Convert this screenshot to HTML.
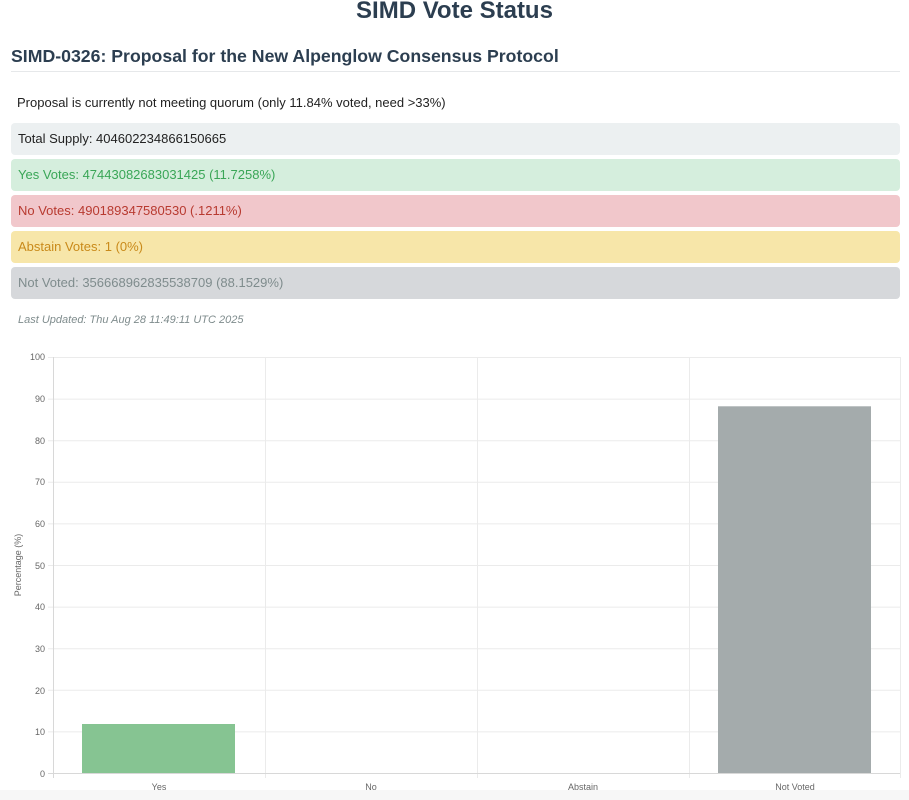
<!DOCTYPE html>
<html><head><meta charset="utf-8"><style>
body{margin:0;width:909px;height:800px;background:#fff;font-family:"Liberation Sans",Arial,sans-serif;position:relative;overflow:hidden}
.a{position:absolute;white-space:nowrap}
.box{position:absolute;left:11px;width:889px;height:32px;border-radius:4px;font-size:13px;line-height:32px;padding-left:7px;box-sizing:border-box}
</style></head><body>
<div class="a" style="left:0;width:909px;text-align:center;top:-3px;font-size:24px;font-weight:bold;color:#2c3e50">SIMD Vote Status</div>
<div class="a" style="left:11px;top:46px;font-size:17.7px;font-weight:bold;color:#2c3e50">SIMD-0326: Proposal for the New Alpenglow Consensus Protocol</div>
<div class="a" style="left:11px;top:71px;width:889px;height:1px;background:#e6e8ea"></div>
<div class="a" style="left:17px;top:95px;font-size:13px;color:#222">Proposal is currently not meeting quorum (only 11.84% voted, need &gt;33%)</div>
<div class="box" style="top:123px;background:#ecf0f1;color:#222">Total Supply: 404602234866150665</div>
<div class="box" style="top:159px;background:#d5eedd;color:#3aa657">Yes Votes: 47443082683031425 (11.7258%)</div>
<div class="box" style="top:195px;background:#f1c7cb;color:#b83a30">No Votes: 490189347580530 (.1211%)</div>
<div class="box" style="top:231px;background:#f7e6a9;color:#c98a1a">Abstain Votes: 1 (0%)</div>
<div class="box" style="top:267px;background:#d6d8db;color:#7f8c8d">Not Voted: 356668962835538709 (88.1529%)</div>
<div class="a" style="left:18px;top:314px;font-size:11px;font-style:italic;color:#7f8c8d">Last Updated: Thu Aug 28 11:49:11 UTC 2025</div>
<div class="a" style="left:0;top:790px;width:909px;height:10px;background:#f7f7f7"></div>
<svg class="a" style="left:0;top:0" width="909" height="800" font-family="Liberation Sans, Arial, sans-serif">
<g stroke="#ebebeb" stroke-width="1">
<line x1="48" y1="357.5" x2="900" y2="357.5"/><line x1="48" y1="399.1" x2="900" y2="399.1"/><line x1="48" y1="440.7" x2="900" y2="440.7"/><line x1="48" y1="482.3" x2="900" y2="482.3"/><line x1="48" y1="523.9" x2="900" y2="523.9"/><line x1="48" y1="565.5" x2="900" y2="565.5"/><line x1="48" y1="607.1" x2="900" y2="607.1"/><line x1="48" y1="648.7" x2="900" y2="648.7"/><line x1="48" y1="690.3" x2="900" y2="690.3"/><line x1="48" y1="731.9" x2="900" y2="731.9"/>
<line x1="265.5" y1="357" x2="265.5" y2="778"/><line x1="477.5" y1="357" x2="477.5" y2="778"/><line x1="689.5" y1="357" x2="689.5" y2="778"/><line x1="900.5" y1="357" x2="900.5" y2="778"/>
</g>
<line x1="53.5" y1="357" x2="53.5" y2="778" stroke="#d8d8d8"/>
<line x1="48" y1="773.5" x2="900" y2="773.5" stroke="#d8d8d8"/>
<rect x="82" y="724" width="153" height="49" fill="#86c492"/>
<rect x="718" y="406.3" width="153" height="366.7" fill="#a4abac"/>
<g font-size="9" fill="#666" text-anchor="end">
<text x="45" y="360">100</text><text x="45" y="402">90</text><text x="45" y="444">80</text><text x="45" y="485">70</text><text x="45" y="527">60</text><text x="45" y="569">50</text><text x="45" y="610">40</text><text x="45" y="652">30</text><text x="45" y="694">20</text><text x="45" y="735">10</text><text x="45" y="777">0</text>
</g>
<g font-size="9" fill="#666" text-anchor="middle">
<text x="159" y="790">Yes</text><text x="371" y="790">No</text><text x="583" y="790">Abstain</text><text x="795" y="790">Not Voted</text>
</g>
<text transform="translate(21,565) rotate(-90)" font-size="9" fill="#666" text-anchor="middle">Percentage (%)</text>
</svg>
</body></html>
